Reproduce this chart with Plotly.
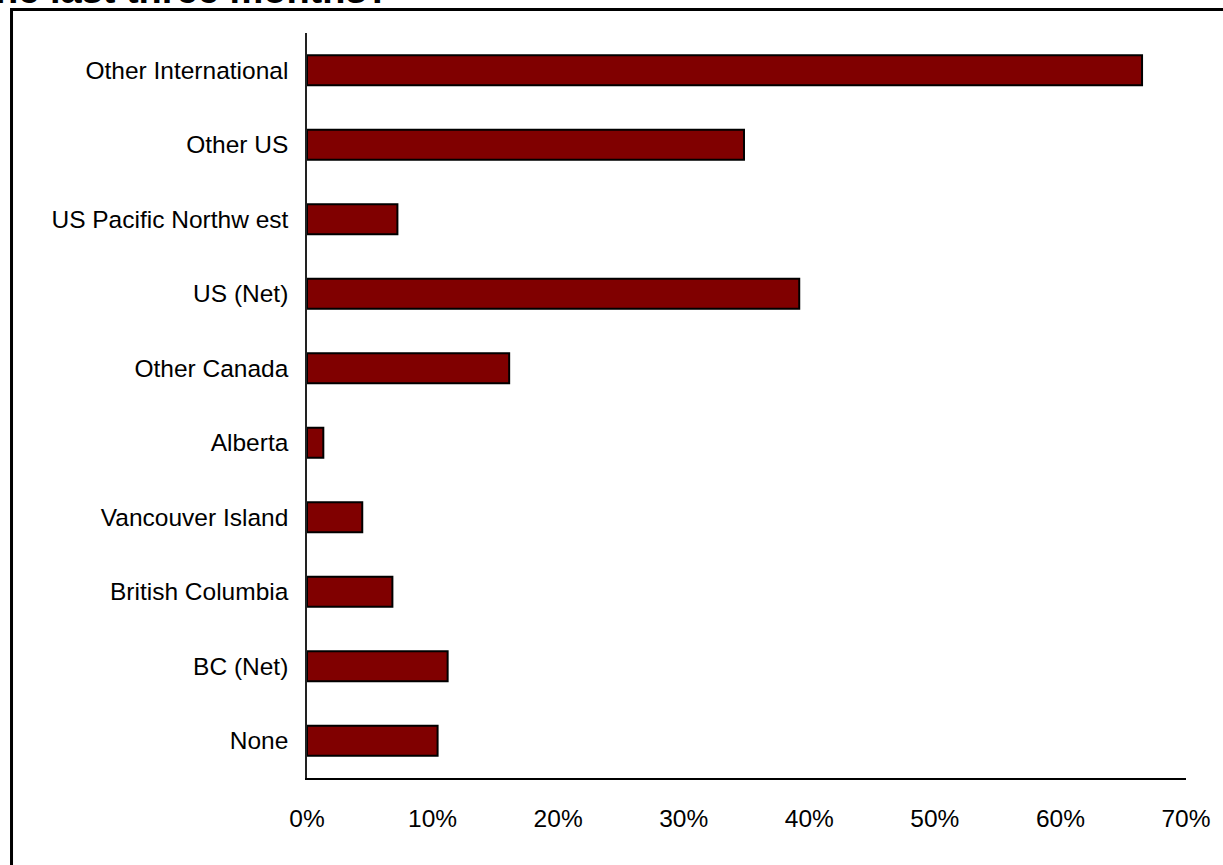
import plotly.graph_objects as go

# Travel destinations, listed top to bottom as shown
destinations = [
    "Other International",
    "Other US",
    "US Pacific Northw est",
    "US (Net)",
    "Other Canada",
    "Alberta",
    "Vancouver Island",
    "British Columbia",
    "BC (Net)",
    "None",
]
share_pct = [66.5, 34.8, 7.2, 39.2, 16.1, 1.3, 4.4, 6.8, 11.2, 10.4]
x_ticks = [0, 10, 20, 30, 40, 50, 60, 70]
title_text = "in the last three months?"

FONT = "Liberation Sans, Arial, sans-serif"

fig = go.Figure(
    go.Bar(
        x=share_pct,
        y=destinations,
        orientation="h",
        width=0.4,
        marker=dict(color="#800000", line=dict(color="#000000", width=2)),
        hoverinfo="skip",
    )
)

W, H = 1223, 865
L, R, T, B = 307, 31, 33, 87
plot_w = W - L - R
plot_h = H - T - B


def px_x(p):
    return (p - L) / plot_w


def px_y(p):
    return (H - B - p) / plot_h


fig.update_layout(
    width=W,
    height=H,
    margin=dict(l=L, r=R, t=T, b=B),
    paper_bgcolor="white",
    plot_bgcolor="white",
    showlegend=False,
    font=dict(family=FONT, size=24.5, color="#000000"),
    xaxis=dict(
        range=[0, 70],
        tickvals=x_ticks,
        ticktext=[f"{v}%" for v in x_ticks],
        showgrid=False,
        zeroline=False,
        showline=True,
        linecolor="#000000",
        linewidth=2,
        ticks="",
        ticklabelstandoff=18,
        fixedrange=True,
    ),
    yaxis=dict(
        categoryorder="array",
        categoryarray=destinations[::-1],
        range=[-0.5, len(destinations) - 0.5],
        showgrid=False,
        zeroline=False,
        showline=True,
        linecolor="#222222",
        linewidth=1.5,
        ticks="",
        ticklabelstandoff=12,
        fixedrange=True,
    ),
    shapes=[
        dict(
            type="rect",
            xref="paper",
            yref="paper",
            x0=px_x(9.5),
            x1=px_x(1235),
            y0=px_y(885),
            y1=px_y(9.5),
            line=dict(color="#000000", width=3),
            fillcolor="rgba(0,0,0,0)",
            layer="above",
        )
    ],
    annotations=[
        dict(
            text=f"<b>{title_text}</b>",
            xref="paper",
            yref="paper",
            x=px_x(393),
            y=px_y(13),
            xanchor="right",
            yanchor="bottom",
            showarrow=False,
            font=dict(family=FONT, size=38, color="#000000"),
        )
    ],
)

fig.write_html("out.html")
